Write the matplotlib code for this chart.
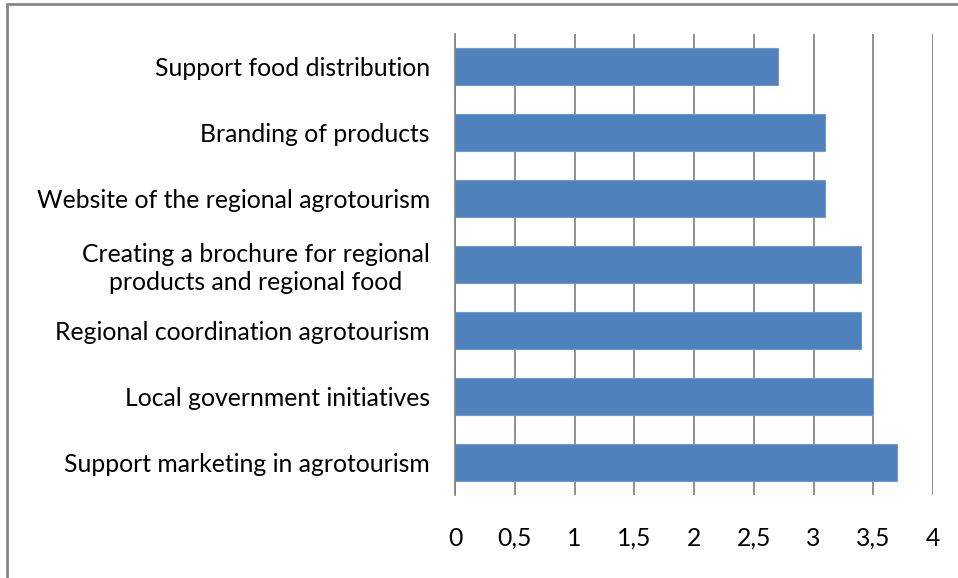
import matplotlib
matplotlib.use("Agg")
import matplotlib.pyplot as plt
from matplotlib.patches import Rectangle
from matplotlib.ticker import FuncFormatter

categories = [
    "Support marketing in agrotourism",
    "Local government initiatives",
    "Regional coordination agrotourism",
    "Creating a brochure for regional\nproducts and regional food",
    "Website of the regional agrotourism",
    "Branding of products",
    "Support food distribution",
]
values = [3.7, 3.5, 3.4, 3.4, 3.1, 3.1, 2.7]
xticks = [0, 0.5, 1, 1.5, 2, 2.5, 3, 3.5, 4]

plt.rcParams['font.family'] = ['Lato', 'DejaVu Sans']

fig = plt.figure(figsize=(9.58, 5.78), dpi=100)
ax = fig.add_axes([455/958, 83/578, 478/958, 461/578])

ypos = list(range(len(categories)))
ax.barh(ypos, values, height=0.56, color='#4F81BD', edgecolor='#6E9AD0', linewidth=0.8, zorder=3)
ax.set_xlim(0, 4)
ax.set_ylim(-0.5, len(categories) - 0.5)
ax.set_xticks(xticks)
ax.xaxis.set_major_formatter(FuncFormatter(lambda v, p: ('%g' % v).replace('.', ',')))
ax.set_yticks(ypos)
ax.set_yticklabels(categories, multialignment='center', linespacing=1.25)
ax.tick_params(axis='y', length=0, pad=18, labelsize=17.8)
ax.tick_params(axis='x', length=0, pad=23, labelsize=17.8)
ax.grid(axis='x', color='#878787', linewidth=1.3, zorder=0)
for s in ['top', 'right', 'bottom']:
    ax.spines[s].set_visible(False)
ax.spines['left'].set_color('#878787')
ax.spines['left'].set_linewidth(1.3)
ax.spines['left'].set_zorder(4)

fig.patches.append(Rectangle((7/958, -0.1), 1.2, (578-4)/578 + 0.1, transform=fig.transFigure,
                             fill=False, edgecolor='#878787', linewidth=2))
fig.savefig('out.png', dpi=100)
